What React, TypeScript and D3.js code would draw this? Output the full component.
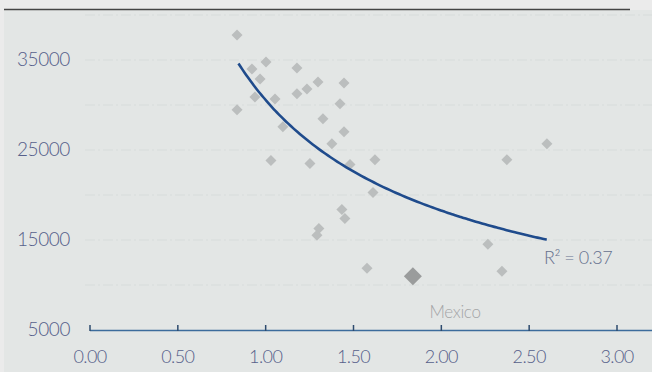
import React from "react";
import * as d3 from "d3";

// Ratio (x) vs income (y) per country
const xValues = [0.837, 1.002, 0.922, 0.968, 1.178, 0.939, 1.053, 0.837, 1.178, 1.235, 1.298, 1.446, 1.423, 1.326, 1.446, 1.377, 1.098, 1.03, 1.252, 1.48, 1.622, 1.611, 1.434, 1.451, 1.303, 1.292, 1.577, 2.265, 2.345, 2.373, 2.601];
const yValues = [37770, 34780, 34000, 32900, 34110, 30900, 30680, 29460, 31240, 31790, 32560, 32450, 30130, 28470, 27030, 25700, 27580, 23820, 23490, 23380, 23930, 20280, 18390, 17400, 16290, 15520, 11860, 14520, 11530, 23930, 25700];

// Highlighted country
const highlightName = "Mexico";
const highlightX = 1.838;
const highlightY = 10980;

// Power trend y = a * x^b
const trendA = 30550;
const trendB = -0.742;
const trendRange = [0.845, 2.6];
const rSquaredLabel = "R² = 0.37";

const xTicks = [0, 0.5, 1, 1.5, 2, 2.5, 3];
const yTicks = [5000, 15000, 25000, 35000];
const gridValues = [10000, 15000, 20000, 25000, 30000, 35000, 40000];

const W = 652;
const H = 372;

export default function App() {
  const x = d3.scaleLinear().domain([0, 3]).range([90, 617]);
  const y = d3.scaleLinear().domain([5000, 35000]).range([330, 60]);

  const trendPts = d3.range(0, 101).map((i) => {
    const t = trendRange[0] + ((trendRange[1] - trendRange[0]) * i) / 100;
    return [t, trendA * Math.pow(t, trendB)] as [number, number];
  });
  const line = d3
    .line<[number, number]>()
    .x((d) => x(d[0]))
    .y((d) => y(d[1]))
    .curve(d3.curveBasis);

  const diamond = (cx: number, cy: number, r: number) =>
    `M${cx},${cy - r}L${cx + r},${cy}L${cx},${cy + r}L${cx - r},${cy}Z`;

  const font = "Lato, 'Open Sans', sans-serif";

  return (
    <svg
      width={W}
      height={H}
      style={{ position: "absolute", left: 0, top: 0, display: "block" }}
    >
      <rect x={0} y={0} width={W} height={H} fill="#ebebeb" />
      <rect x={4} y={10} width={W - 4} height={H - 10} fill="#e3e6e5" />
      <line x1={4} x2={630} y1={9.5} y2={9.5} stroke="#454545" strokeWidth={1.6} />

      {gridValues.map((v) => (
        <line
          key={v}
          x1={85}
          x2={W}
          y1={y(v)}
          y2={y(v)}
          stroke="#d8dcdc"
          strokeWidth={1.2}
          strokeDasharray="10 3 2 3"
        />
      ))}

      {yTicks.map((v) => (
        <text
          key={v}
          x={70}
          y={y(v) - 1}
          dy="0.35em"
          textAnchor="end"
          fontFamily={font}
          fontWeight={300}
          fontSize={19}
          letterSpacing={-0.4}
          fill="#56608a"
        >
          {v}
        </text>
      ))}

      {xValues.map((v, i) => (
        <path key={i} d={diamond(x(v), y(yValues[i]), 5.5)} fill="#bbbebe" />
      ))}
      <path d={diamond(x(highlightX), y(highlightY), 9)} fill="#9a9c9c" />
      <text
        x={455}
        y={318}
        textAnchor="middle"
        fontFamily={font}
        fontWeight={300}
        fontSize={17}
        letterSpacing={-0.3}
        fill="#a3a5a7"
      >
        {highlightName}
      </text>

      <path d={line(trendPts) || ""} fill="none" stroke="#1f4b8c" strokeWidth={2.6} />
      <text
        x={544}
        y={264}
        fontFamily={font}
        fontWeight={300}
        fontSize={18}
        letterSpacing={-0.5}
        fill="#66718e"
      >
        {rSquaredLabel}
      </text>

      <line x1={90} x2={W} y1={330.5} y2={330.5} stroke="#3c6c9c" strokeWidth={1.6} />
      {xTicks.map((v) => (
        <g key={v}>
          <line x1={x(v)} x2={x(v)} y1={325} y2={331} stroke="#2e4b6e" strokeWidth={1.5} />
          <text
            x={x(v)}
            y={357}
            dy="0.35em"
            textAnchor="middle"
            fontFamily={font}
            fontWeight={300}
            fontSize={18}
            letterSpacing={-0.6}
            fill="#56608a"
          >
            {v.toFixed(2)}
          </text>
        </g>
      ))}
    </svg>
  );
}
